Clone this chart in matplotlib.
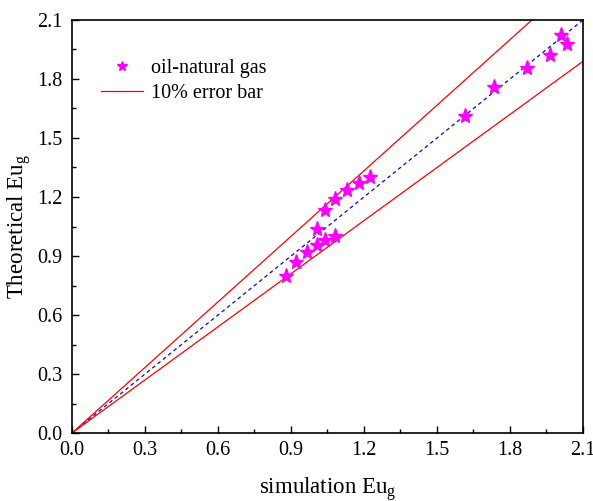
import numpy as np
import matplotlib
matplotlib.use('Agg')
import matplotlib.pyplot as plt
from matplotlib.ticker import MultipleLocator

plt.rcParams['font.family'] = 'Liberation Serif'
plt.rcParams['mathtext.fontset'] = 'custom'
plt.rcParams['mathtext.rm'] = 'Liberation Serif'
plt.rcParams['mathtext.it'] = 'Liberation Serif:italic'

# simulation vs theoretical Eu_g
sim = [0.88, 0.92, 0.965, 1.005, 1.04, 1.08, 1.005, 1.04, 1.08, 1.13, 1.18, 1.225,
       1.615, 1.735, 1.87, 1.965, 2.01, 2.035]
theo = [0.80, 0.87, 0.92, 0.955, 0.98, 1.00, 1.037, 1.135, 1.19, 1.235, 1.27, 1.30,
        1.612, 1.76, 1.855, 1.92, 2.025, 1.98]

line_x = [0.0, 2.1]
upper = [v / 0.9 for v in line_x]
lower = [v * 0.9 for v in line_x]

fig = plt.figure(figsize=(5.93, 5.01), dpi=100)
ax = fig.add_axes([0.1214, 0.1357, 0.8617, 0.8244])

ax.plot(line_x, line_x, color='blue', lw=0.9, linestyle=(0, (3, 2.5)))
ax.plot(line_x, upper, color='red', lw=0.9, label='10% error bar')
ax.plot(line_x, lower, color='red', lw=0.9)
ax.plot(sim, theo, linestyle='none', marker='*', ms=11, color='#ff00ff',
        mec='#ff00ff', label='oil-natural gas')

ax.set_xlim(0, 2.1)
ax.set_ylim(0, 2.1)
ax.xaxis.set_major_locator(MultipleLocator(0.3))
ax.yaxis.set_major_locator(MultipleLocator(0.3))
ax.xaxis.set_minor_locator(MultipleLocator(0.15))
ax.yaxis.set_minor_locator(MultipleLocator(0.15))
ax.xaxis.set_major_formatter(plt.FormatStrFormatter('%.1f'))
ax.yaxis.set_major_formatter(plt.FormatStrFormatter('%.1f'))
ax.tick_params(which='both', direction='in', labelsize=14.5, top=False, right=False, width=1)
ax.tick_params(which='major', length=5)
ax.tick_params(which='minor', length=3)
ax.tick_params(axis='x', pad=6)
ax.tick_params(axis='y', pad=7)
for s in ax.spines.values():
    s.set_linewidth(1.2)

ax.set_xlabel('simulation Eu$_\\mathregular{g}$', fontsize=16.5, labelpad=11)
ax.set_ylabel('Theoretical Eu$_\\mathregular{g}$', fontsize=16.5, labelpad=3)

h, l = ax.get_legend_handles_labels()
ax.legend(h[::-1], l[::-1], loc='upper left', bbox_to_anchor=(0.057, 0.905), frameon=False,
          fontsize=14.5, markerscale=0.7, handlelength=2.1, handletextpad=0.4,
          labelspacing=0.3, borderpad=0, borderaxespad=0)

fig.savefig('out.png', dpi=100)
